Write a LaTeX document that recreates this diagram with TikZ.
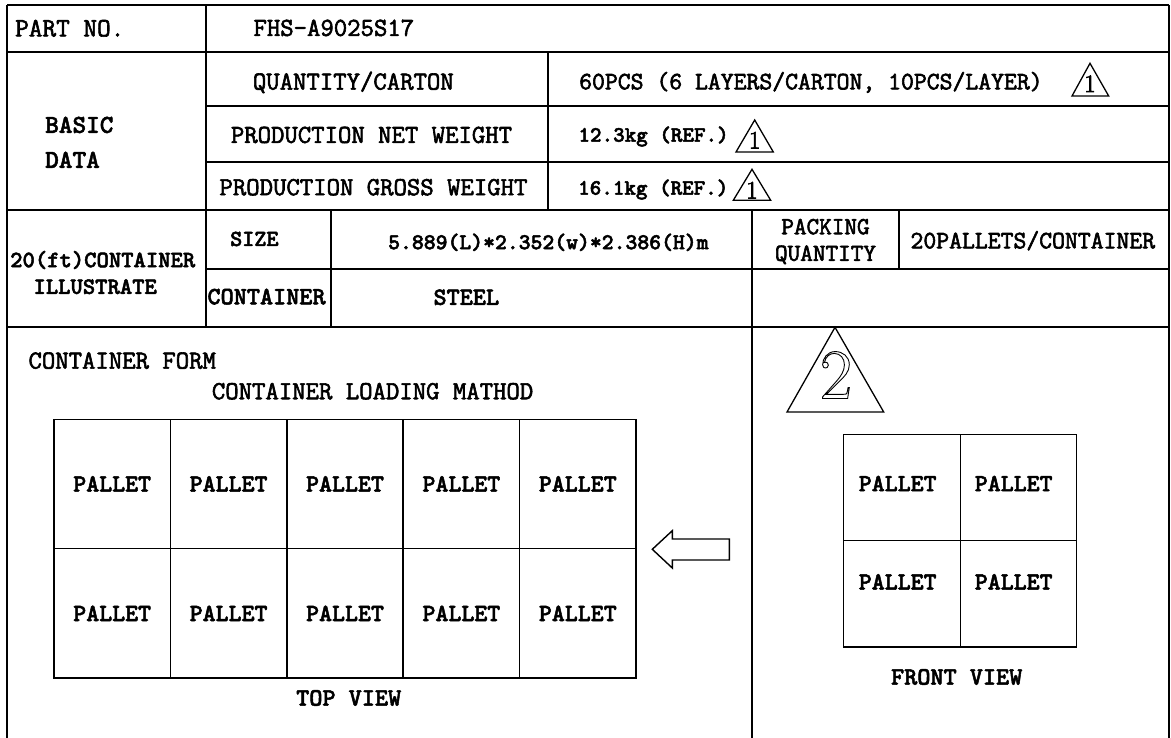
\documentclass[tikz,border=0pt]{standalone}
\usepackage{fontspec}
\begin{document}
\begin{tikzpicture}[x=1pt,y=-1pt,
  frame/.style={line width=1.8pt},
  gridline/.style={line width=1.5pt},
  tri/.style={line width=1.3pt, line join=miter},
  heavy/.style={execute at begin node={\special{pdf:literal direct 2 Tr #1 w}},
                execute at end node={\special{pdf:literal direct 0 Tr}}},
  tx/.style={inner sep=0pt, anchor=base west, heavy=0.6, font=\ttfamily\fontsize{#1}{#1}\selectfont},
  tb/.style={inner sep=0pt, anchor=base west, heavy=0.5, font=\ttfamily\bfseries\fontsize{#1}{#1}\selectfont},
  tc/.style={inner sep=0pt, anchor=base, heavy=0.6, font=\ttfamily\fontsize{#1}{#1}\selectfont},
  tcb/.style={inner sep=0pt, anchor=base, heavy=0.5, font=\ttfamily\bfseries\fontsize{#1}{#1}\selectfont},
  digit/.style={inner sep=0pt, anchor=base, heavy=0.7, font=\fontsize{#1}{#1}\selectfont}
]
\useasboundingbox (0,0) rectangle (1171,738);

% table frame
\draw[frame] (7,5) -- (1169,5);
\draw[frame] (7,5) -- (7,738);
\draw[frame] (1169,5) -- (1169,738);
\draw[frame] (7,52.3) -- (1169,52.3);
\draw[frame] (206,106) -- (1169,106);
\draw[frame] (206,162.3) -- (1169,162.3);
\draw[frame] (7,210) -- (1169,210);
\draw[frame] (206,268.7) -- (1169,268.7);
\draw[frame] (7,327.3) -- (1169,327.3);
\draw[frame] (206,5) -- (206,327.3);
\draw[frame] (547.7,52.3) -- (547.7,210);
\draw[frame] (331,210) -- (331,327.3);
\draw[frame] (752.3,210) -- (752.3,738);
\draw[frame] (899.3,210) -- (899.3,268.7);

% texts of the table
\node[tx=26.5] (partno) at (15,36.4) {PART NO.};
\node[tx=26] (partval) at (253.3,35.9) {FHS–A9025S17};
\node[tb=26] (basic1) at (45,132.9) {BASIC};
\node[tb=26] (basic2) at (45,167.9) {DATA};
\node[tx=26] (qtyl) at (252.7,89.6) {QUANTITY/CARTON};
\node[tx=26] (netl) at (230.7,142.9) {PRODUCTION NET WEIGHT};
\node[tx=26] (grossl) at (219.3,195.2) {PRODUCTION GROSS WEIGHT};
\node[tx=25] (qtyv) at (579,89.3) {60PCS (6 LAYERS/CARTON, 10PCS/LAYER)};
\node[tb=22] (netv) at (578.3,141.7) {12.3kg (REF.)};
\node[tb=22] (grossv) at (578,194.7) {16.1kg (REF.)};
\node[tb=23.5] (c20a) at (10,267.2) {20(ft)CONTAINER};
\node[tb=23.5] (c20b) at (33.3,293.9) {ILLUSTRATE};
\node[tb=23] (sizel) at (230,246) {SIZE};
\node[tb=25] (contl) at (207.3,304.3) {CONTAINER};
\node[tb=22.6] (sizev) at (388,249.2) {5.889(L)*2.352(w)*2.386(H)m};
\node[tb=25] (steel) at (433.3,304.9) {STEEL};
\node[tc=24.5] (pack1) at (825.5,234.2) {PACKING};
\node[tc=24.5] (pack2) at (825.5,260.8) {QUANTITY};
\node[tx=25] (pallv) at (910.3,248.3) {20PALLETS/CONTAINER};

% revision triangles 1
\draw[tri] (1090,63.3) -- (1108.7,96) -- (1072,96) -- cycle;
\node[digit=25] (d1a) at (1090,92) {1};
\draw[tri] (754.7,120) -- (773.3,152) -- (736,152) -- cycle;
\node[digit=25] (d1b) at (754.7,148.5) {1};
\draw[tri] (752,169.3) -- (770.7,200.3) -- (733.3,200.3) -- cycle;
\node[digit=25] (d1c) at (752,198.5) {1};

% lower section
\node[tx=26] (cform) at (28.3,368.6) {CONTAINER FORM};
\node[tx=26] (loading) at (211.7,399.2) {CONTAINER LOADING MATHOD};

% top view grid
\draw[gridline] (54,419.3) rectangle (636,678);
\draw[gridline] (54,548.7) -- (636,548.7);
\foreach \i in {1,...,4} {
  \draw[gridline] ({54+116.4*\i},419.3) -- ({54+116.4*\i},678);
}
\foreach \i in {0,...,4} {
  \node[tcb=24.7] (pt\i) at ({112.2+116.4*\i},491.5) {PALLET};
  \node[tcb=24.7] (pb\i) at ({112.2+116.4*\i},621) {PALLET};
}
\node[tcb=25] (topview) at (348.7,705.6) {TOP VIEW};

% loading arrow
\draw[line width=1.4pt] (652.3,549.3) -- (672.3,530.7) -- (672.3,539) -- (729.3,539)
  -- (729.3,560) -- (672.3,560) -- (672.3,568) -- cycle;

% revision triangle 2
\draw[tri] (835,327.3) -- (883.7,412) -- (787,412) -- cycle;
\node[inner sep=0pt, anchor=base, font=\fontsize{71}{71}\selectfont] (d2) at (836,398.5)
  {\special{pdf:literal direct 1 Tr 0.9 w}2\special{pdf:literal direct 0 Tr}};

% front view grid
\draw[gridline] (843.7,434.7) rectangle (1076.7,647);
\draw[gridline] (843.7,540.7) -- (1076.7,540.7);
\draw[gridline] (960.3,434.7) -- (960.3,647);
\node[tcb=24.7] (f1) at (897.7,491.2) {PALLET};
\node[tcb=24.7] (f2) at (1013.7,491.2) {PALLET};
\node[tcb=24.7] (f3) at (897.7,589.5) {PALLET};
\node[tcb=24.7] (f4) at (1013.7,589.5) {PALLET};
\node[tcb=25] (frontview) at (956.7,684.6) {FRONT VIEW};
\end{tikzpicture}
\end{document}
